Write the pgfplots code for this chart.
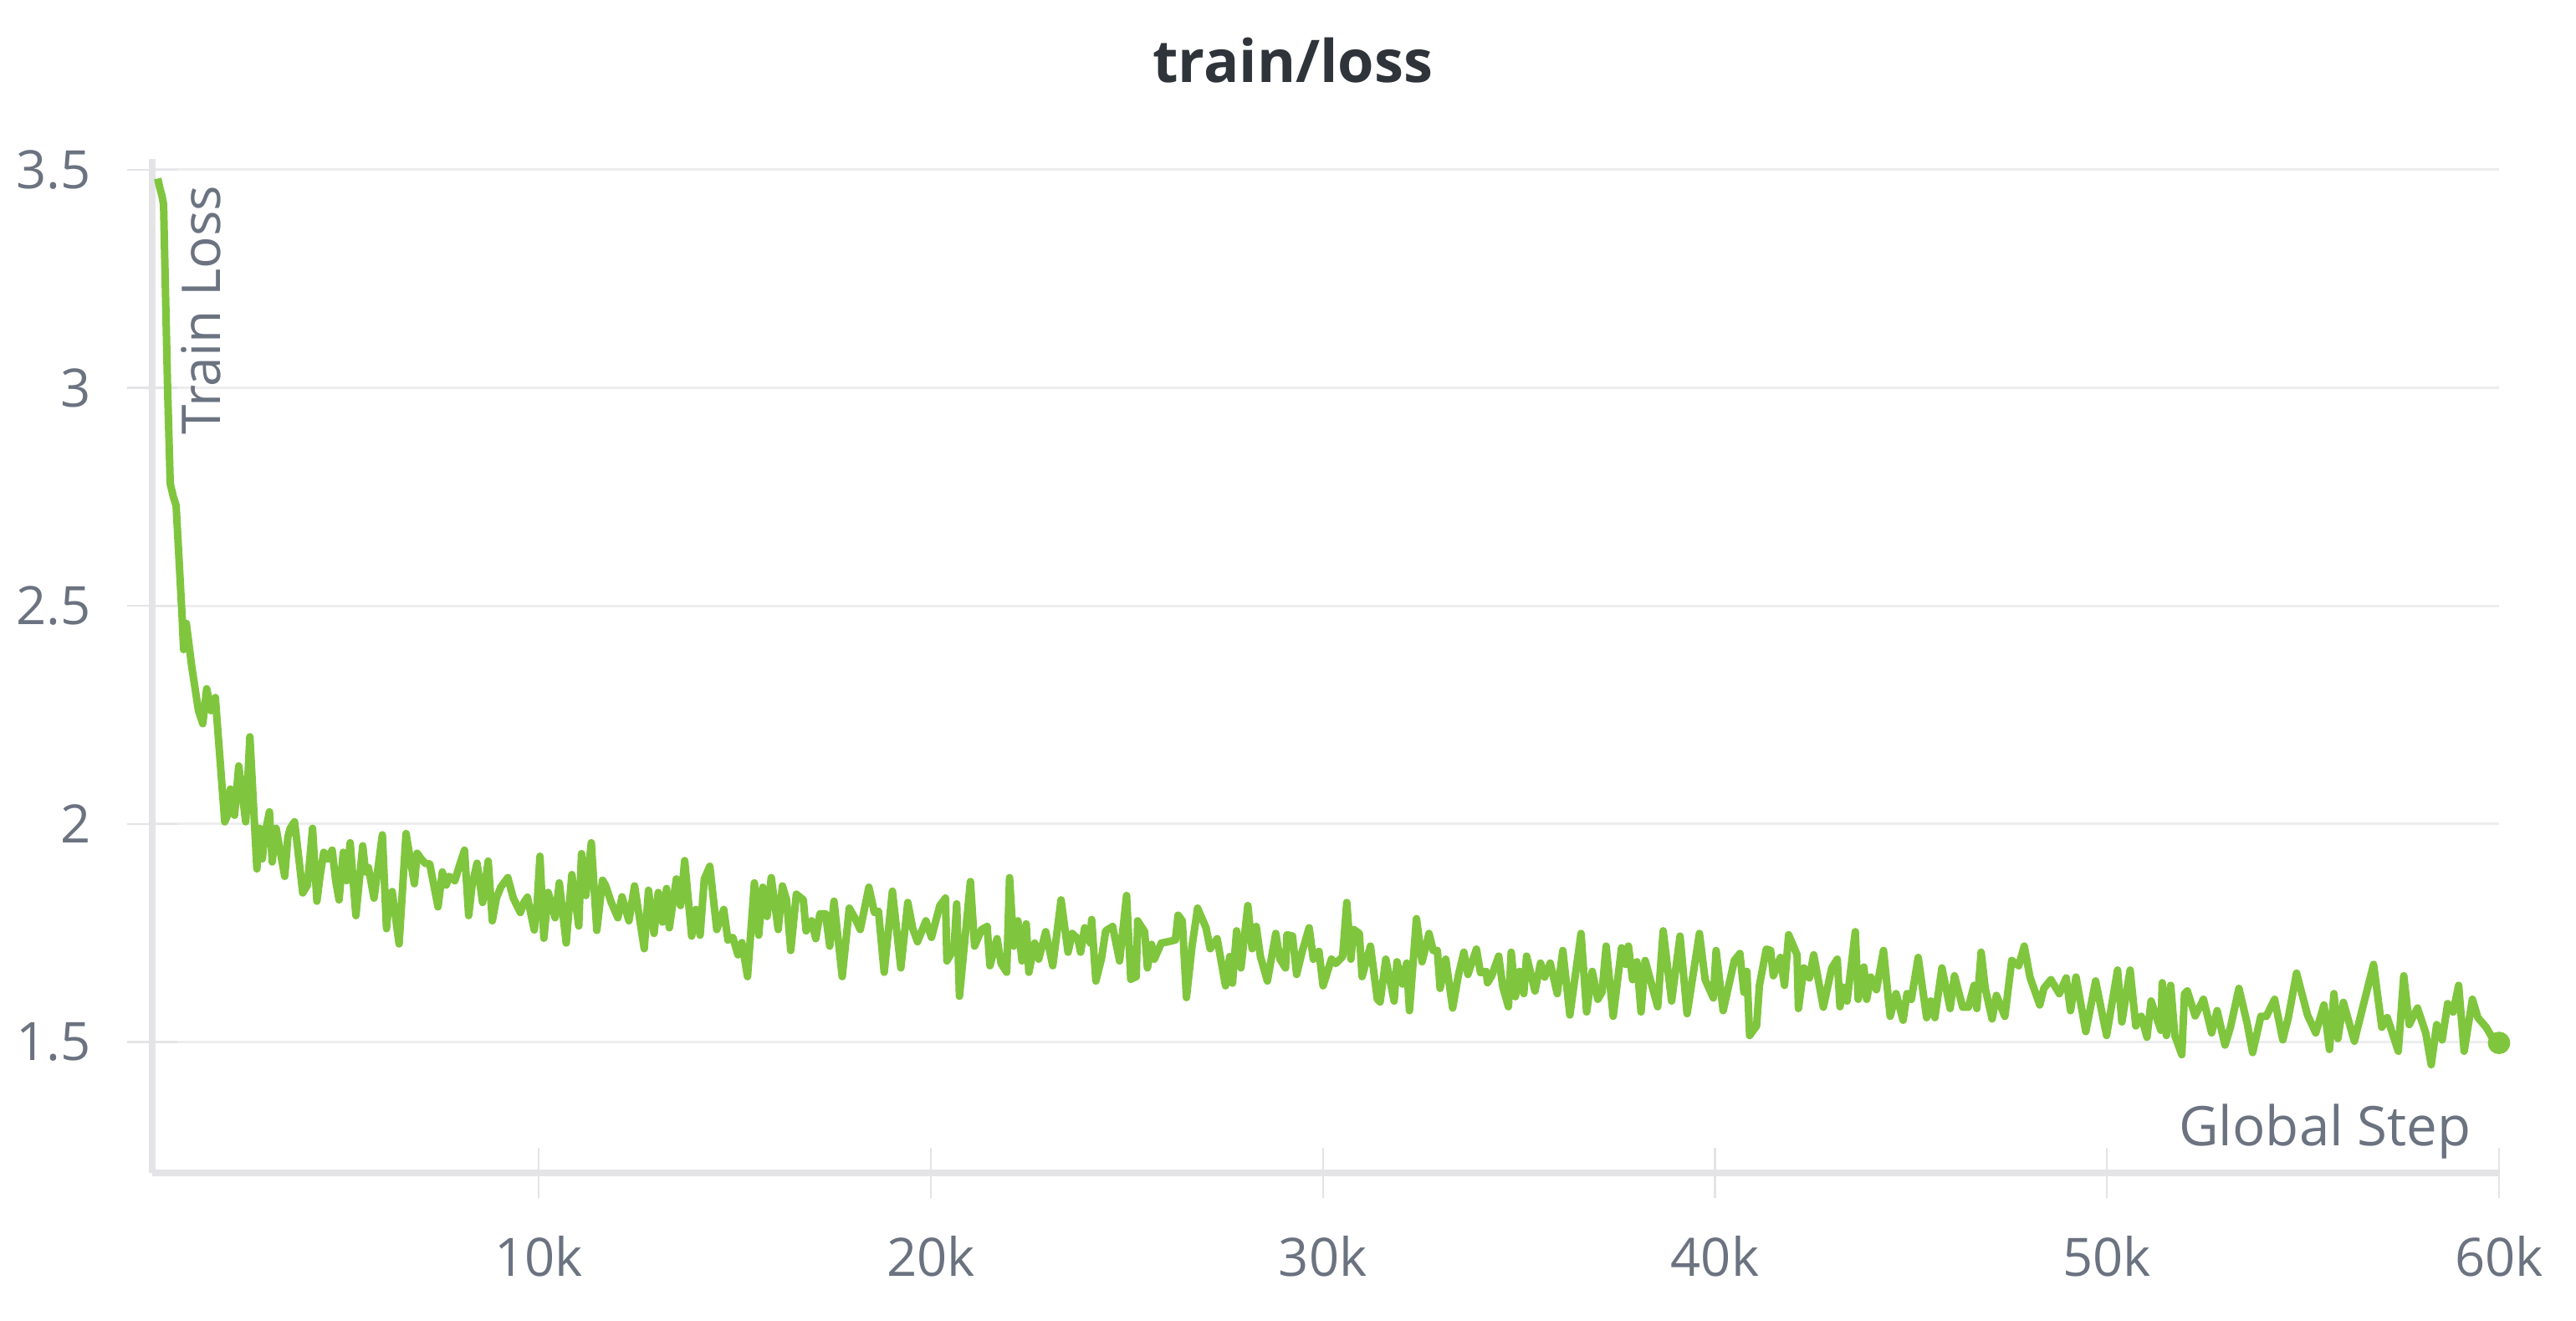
\documentclass[border=0pt]{standalone}
\usepackage{pgfplots}
\pgfplotsset{compat=1.18}
\usepackage{fontspec}
\setmainfont{Open Sans}

\definecolor{wbgreen}{HTML}{7FC63E}
\definecolor{labelgray}{HTML}{6B7280}
\definecolor{titlegray}{HTML}{2F343A}
\definecolor{axisgray}{HTML}{E4E4E7}
\definecolor{gridgray}{HTML}{EDEDEF}

\begin{document}
\begin{tikzpicture}
% fixed canvas: 3080 x 1579 px at 0.005 cm per px
\path[use as bounding box] (-0.91,-0.885) rectangle (14.49,7.01);
\begin{axis}[
  at={(0,0)}, anchor=south west,
  scale only axis,
  width=14.03cm, height=6.06cm,
  xmin=140, xmax=60000,
  ymin=1.2, ymax=3.525,
  axis lines*=left,
  axis line style={draw=axisgray, line width=0.04cm},
  xtick={10000,20000,30000,40000,50000,60000},
  xticklabels={10k,20k,30k,40k,50k,60k},
  ytick={1.5,2,2.5,3,3.5},
  yticklabels={1.5,2,2.5,3,3.5},
  tick align=center,
  major tick length=0.3cm,
  tick style={draw=axisgray, line width=0.012cm},
  ymajorgrids=true,
  grid style={draw=gridgray, line width=0.015cm},
  ticklabel style={font=\fontsize{9}{10}\selectfont, text=labelgray},
  xticklabel style={anchor=center, yshift=-0.35cm},
  yticklabel style={anchor=east, inner sep=0pt, xshift=-0.21cm},
  title={train/loss},
  title style={at={(rel axis cs:0.486,1.062)}, anchor=center,
    font=\fontsize{10}{12}\selectfont\bfseries, text=titlegray},
  xlabel={Global Step},
  xlabel style={at={(rel axis cs:0.9886,0.0404)}, anchor=east, inner sep=0pt,
    font=\fontsize{9.3}{10}\selectfont, text=labelgray},
  ylabel={Train Loss},
  ylabel style={at={(rel axis cs:0.0207,0.975)}, anchor=east, inner sep=0pt, rotate=0,
    font=\fontsize{9.1}{10}\selectfont, text=labelgray},
  clip=false,
]
\addplot[wbgreen, line width=0.045cm, line join=round] table[row sep=\\] {
x y\\
280 3.48\\ 330 3.46\\ 390 3.44\\ 430 3.42\\ 533 2.995\\ 600 2.78\\ 680 2.75\\ 750 2.73\\
900 2.48\\ 940 2.40\\ 1010 2.46\\ 1150 2.36\\ 1320 2.26\\ 1430 2.23\\ 1530 2.31\\ 1640 2.26\\
1750 2.29\\ 1990 2.005\\ 2060 2.02\\ 2133 2.08\\ 2240 2.02\\ 2347 2.133\\ 2525 2.005\\ 2631 2.20\\
2810 1.897\\ 2880 1.99\\ 2950 1.92\\ 3000 1.97\\ 3130 2.028\\ 3200 1.913\\ 3300 1.99\\ 3380 1.95\\
3520 1.88\\ 3600 1.97\\ 3660 1.99\\ 3770 2.005\\ 3830 1.96\\ 3980 1.842\\ 4100 1.86\\ 4230 1.99\\
4340 1.823\\ 4420 1.88\\ 4515 1.935\\ 4620 1.92\\ 4730 1.94\\ 4820 1.87\\ 4906 1.826\\ 5013 1.935\\
5100 1.87\\ 5190 1.957\\ 5335 1.79\\ 5510 1.95\\ 5580 1.89\\ 5655 1.90\\ 5797 1.83\\ 6010 1.975\\
6116 1.76\\ 6180 1.83\\ 6260 1.845\\ 6437 1.725\\ 6614 1.978\\ 6827 1.863\\ 6898 1.933\\ 7000 1.92\\
7100 1.91\\ 7220 1.908\\ 7430 1.81\\ 7540 1.89\\ 7640 1.86\\ 7715 1.88\\ 7860 1.87\\ 7960 1.90\\
8105 1.94\\ 8212 1.79\\ 8300 1.86\\ 8425 1.91\\ 8568 1.82\\ 8710 1.915\\ 8815 1.778\\ 8920 1.83\\
9030 1.855\\ 9210 1.877\\ 9350 1.83\\ 9530 1.797\\ 9620 1.82\\ 9710 1.832\\ 9885 1.757\\ 9960 1.82\\
10030 1.926\\ 10130 1.738\\ 10240 1.843\\ 10417 1.785\\ 10524 1.865\\ 10700 1.727\\ 10844 1.884\\ 11020 1.766\\
11090 1.932\\ 11200 1.836\\ 11340 1.957\\ 11480 1.756\\ 11626 1.871\\ 11700 1.86\\ 11850 1.82\\ 12016 1.785\\
12123 1.833\\ 12300 1.778\\ 12443 1.858\\ 12690 1.714\\ 12799 1.848\\ 12940 1.749\\ 13048 1.843\\ 13155 1.775\\
13260 1.852\\ 13330 1.762\\ 13510 1.874\\ 13617 1.813\\ 13722 1.916\\ 13900 1.743\\ 14010 1.804\\ 14115 1.745\\
14222 1.874\\ 14363 1.903\\ 14540 1.758\\ 14718 1.804\\ 14825 1.734\\ 14950 1.74\\ 15080 1.70\\ 15180 1.728\\
15325 1.65\\ 15500 1.865\\ 15610 1.745\\ 15715 1.855\\ 15823 1.788\\ 15930 1.877\\ 16107 1.758\\ 16214 1.858\\
16320 1.826\\ 16427 1.71\\ 16570 1.839\\ 16748 1.826\\ 16818 1.755\\ 16960 1.778\\ 17065 1.737\\ 17172 1.794\\
17315 1.794\\ 17422 1.72\\ 17530 1.823\\ 17740 1.65\\ 17920 1.807\\ 18060 1.785\\ 18200 1.758\\ 18420 1.855\\
18560 1.797\\ 18665 1.80\\ 18810 1.66\\ 19020 1.846\\ 19235 1.67\\ 19413 1.82\\ 19540 1.76\\ 19660 1.73\\
19875 1.778\\ 20017 1.74\\ 20230 1.813\\ 20374 1.83\\ 20410 1.686\\ 20590 1.714\\ 20660 1.817\\ 20730 1.605\\
21010 1.868\\ 21116 1.72\\ 21294 1.758\\ 21436 1.765\\ 21508 1.675\\ 21690 1.737\\ 21793 1.68\\ 21935 1.66\\
22008 1.877\\ 22113 1.72\\ 22220 1.778\\ 22326 1.686\\ 22433 1.771\\ 22500 1.66\\ 22650 1.727\\ 22752 1.69\\
22930 1.753\\ 23110 1.675\\ 23322 1.826\\ 23500 1.706\\ 23606 1.749\\ 23747 1.737\\ 23820 1.706\\ 23925 1.762\\
24067 1.727\\ 24102 1.781\\ 24210 1.64\\ 24350 1.69\\ 24460 1.755\\ 24637 1.765\\ 24815 1.686\\ 24993 1.836\\
25100 1.644\\ 25240 1.65\\ 25275 1.778\\ 25454 1.753\\ 25525 1.67\\ 25630 1.724\\ 25700 1.69\\ 25880 1.727\\
26050 1.73\\ 26237 1.734\\ 26307 1.791\\ 26414 1.778\\ 26520 1.602\\ 26663 1.72\\ 26805 1.807\\ 27019 1.762\\
27126 1.714\\ 27303 1.737\\ 27517 1.629\\ 27624 1.696\\ 27695 1.635\\ 27800 1.755\\ 27910 1.67\\ 28086 1.813\\
28195 1.714\\ 28300 1.765\\ 28407 1.696\\ 28585 1.64\\ 28798 1.749\\ 28905 1.69\\ 29047 1.67\\ 29082 1.746\\
29225 1.743\\ 29330 1.655\\ 29473 1.708\\ 29650 1.762\\ 29757 1.69\\ 29900 1.708\\ 30005 1.629\\ 30218 1.69\\
30325 1.68\\ 30503 1.696\\ 30610 1.82\\ 30715 1.69\\ 30787 1.758\\ 30930 1.749\\ 31000 1.65\\ 31213 1.72\\
31390 1.598\\ 31460 1.592\\ 31605 1.69\\ 31818 1.594\\ 31890 1.684\\ 32030 1.633\\ 32138 1.681\\ 32208 1.572\\
32387 1.783\\ 32530 1.684\\ 32707 1.749\\ 32814 1.71\\ 32920 1.71\\ 32990 1.623\\ 33134 1.69\\ 33310 1.578\\
33454 1.652\\ 33596 1.706\\ 33700 1.655\\ 33916 1.713\\ 34020 1.659\\ 34165 1.662\\ 34200 1.636\\ 34307 1.652\\
34485 1.697\\ 34590 1.626\\ 34733 1.581\\ 34804 1.706\\ 34910 1.604\\ 35018 1.662\\ 35125 1.611\\ 35196 1.697\\
35410 1.617\\ 35552 1.681\\ 35658 1.649\\ 35800 1.681\\ 35978 1.611\\ 36120 1.71\\ 36300 1.562\\ 36585 1.749\\
36727 1.569\\ 36870 1.662\\ 37013 1.598\\ 37120 1.614\\ 37225 1.72\\ 37405 1.559\\ 37618 1.716\\ 37725 1.678\\
37795 1.72\\ 37900 1.643\\ 38010 1.684\\ 38115 1.569\\ 38220 1.687\\ 38540 1.581\\ 38680 1.755\\ 38895 1.594\\
39110 1.743\\ 39290 1.565\\ 39605 1.749\\ 39750 1.643\\ 39960 1.601\\ 40030 1.71\\ 40210 1.572\\ 40495 1.687\\
40637 1.703\\ 40740 1.614\\ 40815 1.662\\ 40885 1.515\\ 41062 1.537\\ 41135 1.63\\ 41310 1.713\\ 41420 1.71\\
41490 1.652\\ 41670 1.694\\ 41775 1.63\\ 41880 1.746\\ 42095 1.70\\ 42130 1.577\\ 42270 1.67\\ 42410 1.647\\
42520 1.70\\ 42765 1.58\\ 42980 1.67\\ 43120 1.69\\ 43190 1.581\\ 43260 1.626\\ 43370 1.594\\ 43580 1.753\\
43654 1.598\\ 43800 1.672\\ 43870 1.598\\ 43975 1.649\\ 44120 1.62\\ 44300 1.71\\ 44470 1.559\\ 44620 1.611\\
44800 1.55\\ 44900 1.611\\ 45010 1.598\\ 45185 1.694\\ 45400 1.556\\ 45505 1.594\\ 45610 1.556\\ 45790 1.67\\
46000 1.577\\ 46110 1.652\\ 46320 1.58\\ 46465 1.58\\ 46610 1.63\\ 46680 1.577\\ 46790 1.706\\ 46895 1.623\\
47070 1.553\\ 47180 1.607\\ 47395 1.559\\ 47570 1.687\\ 47750 1.675\\ 47890 1.72\\ 48035 1.649\\ 48285 1.585\\
48390 1.623\\ 48570 1.643\\ 48785 1.611\\ 48960 1.647\\ 49070 1.572\\ 49210 1.649\\ 49460 1.524\\ 49710 1.64\\
49990 1.515\\ 50270 1.665\\ 50380 1.546\\ 50590 1.665\\ 50735 1.537\\ 50875 1.559\\ 51020 1.511\\ 51125 1.594\\
51375 1.527\\ 51410 1.636\\ 51515 1.515\\ 51625 1.63\\ 51730 1.515\\ 51908 1.471\\ 51978 1.611\\ 52050 1.617\\
52250 1.56\\ 52460 1.598\\ 52670 1.521\\ 52810 1.572\\ 53010 1.493\\ 53150 1.534\\ 53365 1.623\\ 53575 1.543\\
53715 1.476\\ 53925 1.559\\ 54065 1.559\\ 54275 1.598\\ 54485 1.505\\ 54625 1.556\\ 54835 1.658\\ 55115 1.562\\
55325 1.521\\ 55535 1.585\\ 55675 1.483\\ 55790 1.611\\ 55890 1.508\\ 56030 1.591\\ 56310 1.502\\ 56450 1.553\\
56800 1.678\\ 57010 1.534\\ 57150 1.556\\ 57430 1.479\\ 57570 1.652\\ 57710 1.54\\ 57920 1.578\\ 58130 1.521\\
58270 1.448\\ 58410 1.54\\ 58550 1.505\\ 58690 1.588\\ 58830 1.569\\ 58970 1.63\\ 59110 1.479\\ 59320 1.598\\
59460 1.556\\ 59670 1.534\\ 59880 1.502\\ 60000 1.498\\
};
% end-of-run marker
\addplot[only marks, mark=*, mark size=0.06cm, wbgreen] coordinates {(60000,1.498)};
\end{axis}
\end{tikzpicture}
\end{document}
